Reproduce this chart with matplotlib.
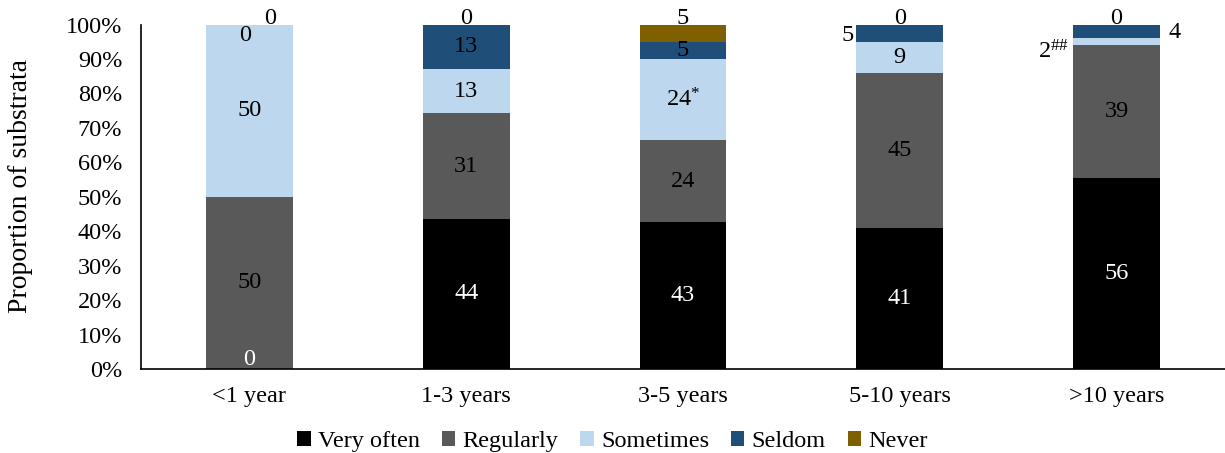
import matplotlib
matplotlib.use('Agg')
from matplotlib import pyplot as plt
import numpy as np

plt.rcParams['font.family'] = ['Liberation Serif', 'DejaVu Serif']
plt.rcParams['mathtext.fontset'] = 'custom'
plt.rcParams['mathtext.rm'] = 'Liberation Serif'
plt.rcParams['mathtext.default'] = 'regular'

categories = ['<1 year', '1-3 years', '3-5 years', '5-10 years', '>10 years']
series = ['Very often', 'Regularly', 'Sometimes', 'Seldom', 'Never']
very_often = [0, 44, 43, 41, 56]
regularly = [50, 31, 24, 45, 39]
sometimes = [50, 13, 24, 9, 2]
seldom = [0, 13, 5, 5, 4]
never = [0, 0, 5, 0, 0]
# significance marks shown after some labels
marks = {(2, 2): '*', (2, 4): '##'}

colors = ['#000000', '#595959', '#BDD7EE', '#1F4E79', '#7F6000']

data = np.array([very_often, regularly, sometimes, seldom, never], dtype=float)
share = data / data.sum(axis=0) * 100   # 100% stacked

fig = plt.figure(figsize=(12.25, 4.53), dpi=100)
ax = fig.add_axes([0.1151, 0.1854, 0.8849, 0.7605])

x = np.arange(len(categories))
width = 0.4
bottom = np.zeros(len(categories))
for s in range(len(series)):
    ax.bar(x, share[s], width, bottom=bottom, color=colors[s], label=series[s])
    for i in range(len(categories)):
        txt = '%d' % data[s, i]
        if (s, i) in marks:
            txt += r'$^{\mathrm{' + marks[(s, i)].replace('#', r'\#') + '}}$'
        col = 'white' if s == 0 else 'black'
        y = bottom[i] + share[s, i] / 2
        xy = (x[i], y)
        off = (0, 0)
        ha, va = 'center', 'center'
        if s == 4:
            # never: above the top of the bar
            xy = (x[i], 100)
            off = (21, 6) if i == 0 else (0, 6)
        elif (s, i) == (0, 0):
            va = 'bottom'
            off = (0, -1)
        elif (s, i) == (3, 0):
            off = (-4, -11)
        elif (s, i) == (3, 3):
            xy = (x[i] - width / 2, y)
            ha = 'right'
            off = (-3, -2)
        elif (s, i) == (3, 4):
            xy = (x[i] + width / 2, y)
            ha = 'left'
            off = (9, -1)
        elif (s, i) == (2, 4):
            xy = (x[i] - width / 2, y)
            ha = 'right'
            off = (-4, -10)
        ax.annotate(txt, xy=xy, xytext=off, textcoords='offset pixels',
                    ha=ha, va=va, color=col, fontsize=17.5, annotation_clip=False)
    bottom += share[s]

ax.set_xlim(-0.5, len(categories) - 0.5)
ax.set_ylim(0, 100)
ax.set_yticks(np.arange(0, 101, 10))
ax.set_yticklabels(['%d%%' % v for v in range(0, 101, 10)])
ax.set_xticks(x)
ax.set_xticklabels(categories)
ax.tick_params(axis='both', length=0, labelsize=17.5, colors='black')
ax.tick_params(axis='x', pad=12)
ax.tick_params(axis='y', pad=13.5)
ax.spines['top'].set_visible(False)
ax.spines['right'].set_visible(False)
ax.spines['left'].set_linewidth(1.2)
ax.spines['bottom'].set_linewidth(1.2)
ax.set_ylabel('Proportion of substrata', fontsize=20)
ax.yaxis.set_label_coords(-0.1, 0.53)

fig.legend(loc='lower center', bbox_to_anchor=(0.5, -0.03), ncol=5, frameon=False,
           fontsize=17.5, handlelength=0.55, handleheight=0.55, handletextpad=0.3,
           columnspacing=0.9, borderaxespad=0.2)

fig.savefig('out.png', dpi=100)
